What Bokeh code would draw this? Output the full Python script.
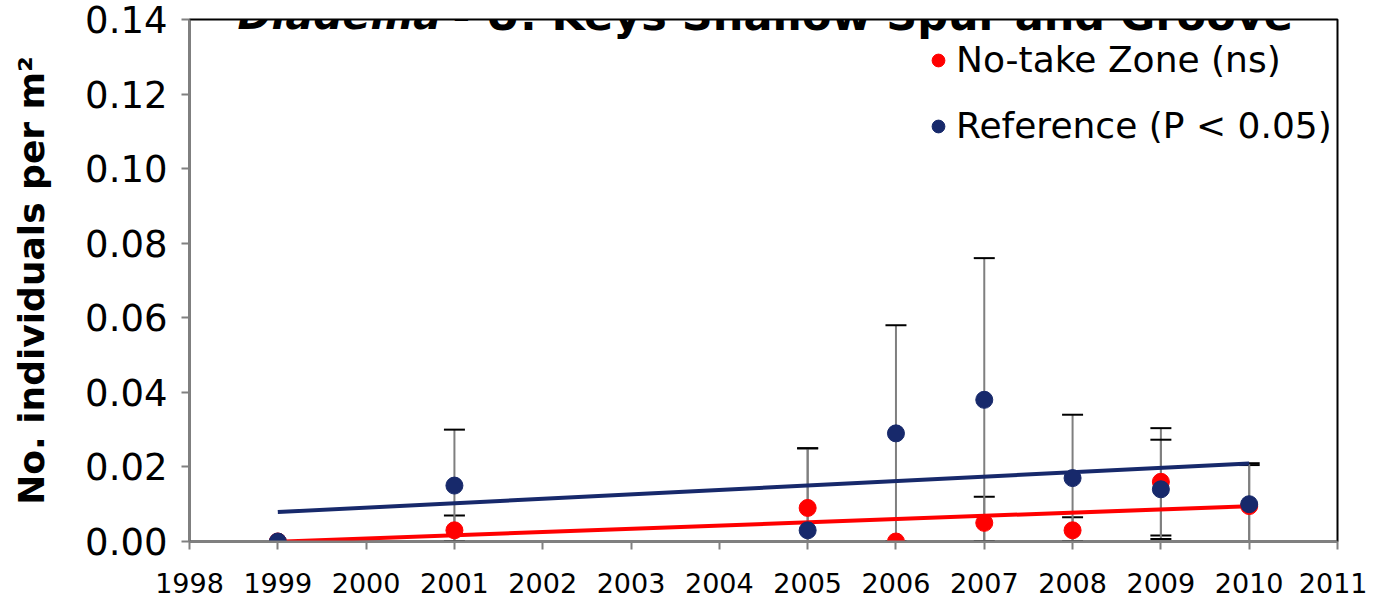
import numpy as np
from bokeh.plotting import figure
from bokeh.models import (ColumnDataSource, Whisker, TeeHead, Legend, LegendItem,
                          Label, FixedTicker, Range1d, CustomJSTickFormatter)
from bokeh.embed import file_html
from bokeh.resources import INLINE

# ---------------- data ----------------
years = [1999, 2001, 2005, 2006, 2007, 2008, 2009, 2010]
notake_mean = [0.000, 0.003, 0.009, 0.000, 0.005, 0.003, 0.016, 0.0095]
notake_err = [0.000, 0.004, 0.016, 0.000, 0.007, 0.0035, 0.0144, 0.011]
ref_mean = [0.000, 0.015, 0.003, 0.029, 0.038, 0.017, 0.014, 0.010]
ref_err = [0.000, 0.015, 0.022, 0.029, 0.038, 0.017, 0.0133, 0.011]
x_ticks = list(range(1998, 2012))
y_ticks = [0.00, 0.02, 0.04, 0.06, 0.08, 0.10, 0.12, 0.14]
title_italic = "Diadema"
title_rest = "- U. Keys Shallow Spur and Groove"
legend_labels = ["No-take Zone (ns)", "Reference (P < 0.05)"]
y_label = "No. individuals per m\u00b2"

RED = "#FF0000"
BLUE = "#17296B"
FONT = "DejaVu Sans"

W, H = 1367, 605
p = figure(width=W, height=H, output_backend="svg", toolbar_location=None,
           x_range=Range1d(1998, 2011), y_range=Range1d(0, 0.14),
           min_border_left=189, min_border_right=30, min_border_top=19,
           min_border_bottom=64)
p.grid.visible = False
p.outline_line_color = "black"
p.outline_line_width = 2
p.background_fill_color = "white"
p.border_fill_color = "white"

# axes
for ax in (p.xaxis[0], p.yaxis[0]):
    ax.axis_line_color = "#808080"
    ax.axis_line_width = 2
    ax.major_tick_line_color = "#808080"
    ax.major_tick_line_width = 2
    ax.major_tick_in = 0
    ax.major_tick_out = 8
    ax.minor_tick_line_color = None
    ax.major_label_text_color = "black"
    ax.major_label_text_font = FONT

p.xaxis.ticker = FixedTicker(ticks=x_ticks)
p.xaxis.major_label_text_font_size = "27px"
p.xaxis.major_label_standoff = 23

p.yaxis.ticker = FixedTicker(ticks=y_ticks)
p.yaxis.formatter = CustomJSTickFormatter(code="return tick.toFixed(2);")
p.yaxis.major_label_text_font_size = "37px"
p.yaxis.major_label_standoff = 14
p.yaxis.axis_label = y_label
p.yaxis.axis_label_text_font = FONT
p.yaxis.axis_label_text_font_style = "bold"
p.yaxis.axis_label_text_font_size = "36px"
p.yaxis.axis_label_text_color = "black"
p.yaxis.axis_label_standoff = 30

# trend lines (least squares fit of each series)
x_arr = np.array(years, dtype=float)
xfit = np.array([min(years), max(years)], dtype=float)
for ys, col in ((ref_mean, BLUE), (notake_mean, RED)):
    k, b = np.polyfit(x_arr, np.array(ys), 1)
    p.line(xfit, k * xfit + b, line_color=col, line_width=4)

# error bars
def add_whisker(means, errs):
    xs = [x for x, e in zip(years, errs) if e > 0]
    up = [m + e for m, e in zip(means, errs) if e > 0]
    lo = [m - e for m, e in zip(means, errs) if e > 0]
    src = ColumnDataSource(dict(x=xs, upper=up, lower=lo))
    w = Whisker(source=src, base="x", upper="upper", lower="lower",
                line_color="#7F7F7F", line_width=2,
                upper_head=TeeHead(size=21, line_color="black", line_width=2),
                lower_head=TeeHead(size=21, line_color="black", line_width=2))
    w.level = "underlay"
    p.add_layout(w)

add_whisker(notake_mean, notake_err)
add_whisker(ref_mean, ref_err)

r_red = p.scatter(years, notake_mean, size=17, fill_color=RED, line_color=RED)
r_blue = p.scatter(years, ref_mean, size=17, fill_color=BLUE, line_color=BLUE)

legend = Legend(items=[LegendItem(label=legend_labels[0], renderers=[r_red]),
                       LegendItem(label=legend_labels[1], renderers=[r_blue])],
                location=(733, 395), orientation="vertical",
                glyph_width=32, glyph_height=32, label_standoff=2,
                label_text_font=FONT, label_text_font_size="36px",
                label_text_color="black", spacing=25, padding=0, margin=0,
                border_line_color=None, background_fill_alpha=0)
p.add_layout(legend)

# title (cropped at the top edge as in the reference); screen units are
# relative to the plot frame's lower-left corner
t1 = Label(x=48, y=527, x_units="screen", y_units="screen", text=title_italic,
           text_font=FONT, text_font_style="bold italic",
           text_font_size="41px", text_baseline="alphabetic", text_color="black")
t2 = Label(x=263, y=527, x_units="screen", y_units="screen", text=title_rest,
           text_font=FONT, text_font_style="bold",
           text_font_size="43px", text_baseline="alphabetic", text_color="black")
p.add_layout(t1)
p.add_layout(t2)

open("out.html", "w").write(file_html(p, INLINE))
